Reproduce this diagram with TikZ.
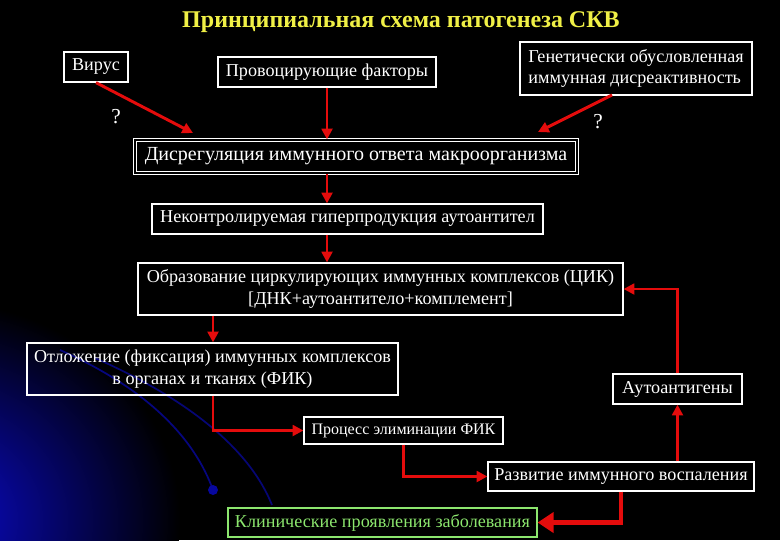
\documentclass[tikz,border=0pt]{standalone}
\usepackage{fontspec}
\setmainfont{Liberation Serif}
\usetikzlibrary{arrows.meta,calc}
\definecolor{myred}{RGB}{228,12,12}
\definecolor{myyellow}{RGB}{240,240,70}
\definecolor{mygreen}{RGB}{140,230,110}
\definecolor{glow}{RGB}{10,10,210}
\begin{document}
\begin{tikzpicture}[x=0.75pt,y=-0.75pt,
  box/.style={draw=white, line width=0.9pt, text=white, fill=black,
    font=\fontsize{13.6}{16}\selectfont, inner sep=0pt, align=center},
  wh/.style 2 args={minimum width=#1*0.75pt, minimum height=#2*0.75pt},
  arr/.style={draw=myred, line width=2.2pt, -{Triangle[length=8pt,width=8pt]}},
  bigarr/.style={draw=myred, line width=3.6pt, -{Triangle[length=12pt,width=15pt]}},
  qm/.style={text=white, font=\fontsize{16}{19}\selectfont}
]
% background
\fill[black] (0,0) rectangle (780,540);
\begin{scope}
  \clip (0,0) rectangle (780,540);
  \fill[inner color=glow, outer color=black] (-70,520) ellipse (250 and 220);
  \draw[glow!60!black, line width=1.3pt] (60,350) .. controls (150,390) and (195,440) .. (213,490);
  \draw[glow!55!black, line width=1.3pt] (95,358) .. controls (190,400) and (250,450) .. (272,505);
  \fill[glow!75!black] (213,490) circle (5);
\end{scope}
\useasboundingbox (0,0) rectangle (780,540);

% title
\node[text=myyellow, font=\bfseries\fontsize{18}{21}\selectfont] (title) at (401,22) {Принципиальная схема патогенеза СКВ};

% boxes
\node[box, wh={64}{30}] (virus) at (96,67) {Вирус};
\node[box, wh={218}{30}] (prov) at (327,72) {Провоцирующие факторы};
\node[box, wh={232}{53}, align=left] (gen) at (636,68.5) {Генетически обусловленная\\иммунная дисреактивность};
\node[box, wh={442}{33}, double=black, double distance=1.6pt, font=\fontsize{15}{17}\selectfont] (dis) at (356,156.5) {Дисрегуляция иммунного ответа макроорганизма};
\node[box, wh={391}{30}] (nek) at (347.5,219) {Неконтролируемая гиперпродукция аутоантител};
\node[box, wh={485}{52}] (obr) at (380.5,289) {Образование циркулирующих иммунных комплексов (ЦИК)\\{}[ДНК+аутоантитело+комплемент]};
\node[box, wh={371}{52}, fill=none] (otl) at (212.5,369) {Отложение (фиксация) иммунных комплексов\\в органах и тканях (ФИК)};
\node[box, wh={199}{27}, font=\fontsize{12}{14}\selectfont] (proc) at (403.5,430.5) {Процесс элиминации ФИК};
\node[box, wh={266}{29}] (razv) at (621,476.5) {Развитие иммунного воспаления};
\node[box, wh={129}{30}] (auto) at (677.5,389) {Аутоантигены};
\node[box, wh={309}{29}, draw=mygreen, text=mygreen, fill=none] (klin) at (382.5,522.5) {Клинические проявления заболевания};

% question marks
\node[qm] (q1) at (116,117) {?};
\node[qm] (q2) at (598,122) {?};

% connectors
\coordinate (vEnd) at (193,133);
\coordinate (gStart) at (612,95);
\coordinate (gEnd) at (538,132);
\coordinate (c213) at (213,0);
\draw[arr] (virus.south) -- (vEnd);
\draw[arr] (prov.south) -- (prov.south |- dis.north);
\draw[arr] (gStart) -- (gEnd);
\draw[arr] (dis.south -| prov.south) -- (nek.north -| prov.south);
\draw[arr] (nek.south -| prov.south) -- (obr.north -| prov.south);
\draw[arr] (obr.south -| c213) -- (otl.north -| c213);
\draw[arr] (otl.south -| c213) |- (proc.west);
\draw[arr] (proc.south) |- (razv.west);
\draw[bigarr] (razv.south) |- (klin.east);
\draw[arr] (razv.north -| auto.south) -- (auto.south);
\draw[arr] (auto.north) |- (obr.east);
\end{tikzpicture}
\end{document}
